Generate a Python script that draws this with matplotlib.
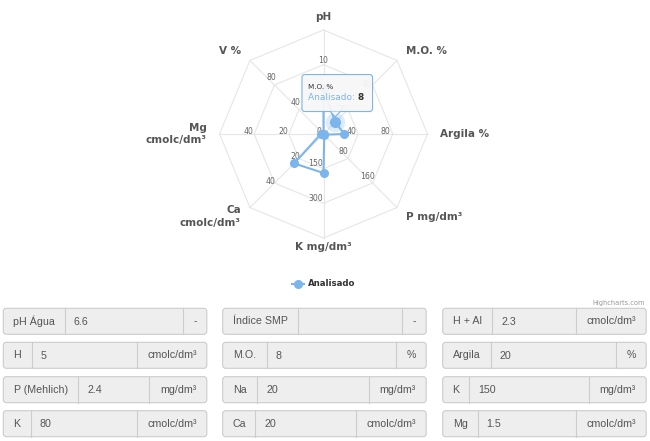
import matplotlib
matplotlib.use("Agg")
import matplotlib.pyplot as plt
from matplotlib.patches import FancyBboxPatch, Polygon
import numpy as np


# radar data, one spoke per soil property
axis_names = ["pH", "M.O. %", "Argila %", "P mg/dm³", "K mg/dm³",
              "Ca\ncmolc/dm³", "Mg\ncmolc/dm³", "V %"]
analisado = [6.6, 8, 20, 2.4, 150, 20, 1.5, 0]
axis_max = [15, 50, 100, 240, 400, 50, 60, 120]
# first pH ring label sits under the tooltip in the reference
ring_ticks = [[None, 10], [20, 40], [40, 80], [80, 160],
              [150, 300], [20, 40], [20, 40], [40, 80]]
series_name = "Analisado"
hover_index = 1

# form fields below the chart, one list per column
table_labels = [["pH Água", "H", "P (Mehlich)", "K"],
                ["Índice SMP", "M.O.", "Na", "Ca"],
                ["H + Al", "Argila", "K", "Mg"]]
table_values = [["6.6", "5", "2.4", "80"],
                ["", "8", "20", "20"],
                ["2.3", "20", "150", "1.5"]]
table_units = [["-", "cmolc/dm³", "mg/dm³", "cmolc/dm³"],
               ["-", "%", "mg/dm³", "cmolc/dm³"],
               ["cmolc/dm³", "%", "mg/dm³", "cmolc/dm³"]]

# layout (pixels)
W, H = 650, 441
cx, cy, R = 323.5, 134, 104
# ring label offset from its ring point, per spoke (px, y down)
label_offsets = [(0, -4), (-6, 0), (-7, -3), (-5, -7),
                 (-8, -5), (-4, -2), (-6, -3), (-3, -7)]
label_widths = [[61.7, 28.4, 75, 27.4],
                [75.6, 44, 34.6, 32.6],
                [49.6, 48, 26.6, 35]]
unit_widths = {"-": 24, "%": 30.5, "mg/dm³": 57.5, "cmolc/dm³": 70}
col_x = [3.3, 222.7, 442.7]
col_w = 203.5
row_y = [308.3, 342.3, 376.7, 410.7]
row_h = 26

BLUE = "#7cb5ec"
GRID = "#e6e6e6"
PX = 0.72  # points per pixel at dpi 100


def draw_radar(fig):
    """draw the spider web with the analysed series"""
    span = 1.35
    ax = fig.add_axes([(cx - span * R) / W, (H - cy - span * R) / H,
                       2 * span * R / W, 2 * span * R / H])
    ax.set_xlim(-span, span)
    ax.set_ylim(-span, span)
    ax.axis("off")

    n = len(axis_names)
    theta = np.arange(n) * 2 * np.pi / n
    sx, sy = np.sin(theta), np.cos(theta)

    # octagon rings and spokes
    for k in (1, 2, 3):
        r = k / 3
        ax.plot(np.append(r * sx, r * sx[0]), np.append(r * sy, r * sy[0]),
                color=GRID, lw=0.8, zorder=1)
    for i in range(n):
        ax.plot([0, sx[i]], [0, sy[i]], color=GRID, lw=0.8, zorder=1)

    # ring labels
    for i in range(n):
        dx, dy = label_offsets[i]
        for k, val in enumerate(ring_ticks[i]):
            if val is None:
                continue
            r = (k + 1) / 3
            ax.annotate(str(val), (r * sx[i], r * sy[i]),
                        xytext=(dx * PX, -dy * PX), textcoords="offset points",
                        ha="center", va="center", fontsize=5.6,
                        color="#666666", zorder=2)
    ax.annotate("0", (0, 0), xytext=(-5 * PX, 3 * PX),
                textcoords="offset points", ha="center", va="center",
                fontsize=5.6, color="#666666", zorder=2)

    # axis names
    for i, name in enumerate(axis_names):
        rl = 1.125 if i != 4 else 1.085
        if abs(sx[i]) < 0.1:
            ha = "center"
        elif sx[i] > 0:
            ha = "left"
        else:
            ha = "right"
        ax.text(rl * sx[i], rl * sy[i], name, ha=ha, va="center",
                fontsize=7.5, fontweight="bold", color="#555555",
                linespacing=1.35, multialignment="right")

    # series
    rr = np.array(analisado) / np.array(axis_max)
    px, py = rr * sx, rr * sy
    ax.plot(np.append(px, px[0]), np.append(py, py[0]), color=BLUE, lw=1.5,
            marker="o", ms=5.5, zorder=4)
    ax.plot(px[hover_index], py[hover_index], "o", ms=14, color=BLUE,
            alpha=0.25, mec="none", zorder=3)
    ax.plot(px[hover_index], py[hover_index], "o", ms=7, color=BLUE,
            zorder=5)

    return ax, (px[hover_index], py[hover_index])


def draw_tooltip(ov, ax, point):
    """tooltip box for the hovered point"""
    X, Y = ax.transData.transform(point)
    ax_px, ay_px = X, H - Y

    left, right = ax_px - 33.3, ax_px + 37.3
    top, bottom = ay_px - 47.7, ay_px - 10.7
    fill = (247 / 255, 247 / 255, 247 / 255, 0.95)
    ov.add_patch(FancyBboxPatch((left, top), right - left, bottom - top,
                                boxstyle="round,pad=0,rounding_size=3",
                                fc=fill, ec=BLUE, lw=0.8, zorder=10))
    tip = [(ax_px - 5, bottom), (ax_px, ay_px - 5.5), (ax_px + 5, bottom)]
    ov.add_patch(Polygon(tip, closed=True, fc=(0.969, 0.969, 0.969),
                         ec="none", zorder=11))
    ov.plot([t[0] for t in tip], [t[1] for t in tip], color=BLUE, lw=0.8,
            zorder=12)

    ov.text(left + 6, top + 12, axis_names[hover_index], ha="left",
            va="center", fontsize=5.2, color="#333333", zorder=13)
    lab = ov.text(left + 6, top + 23, series_name + ": ", ha="left",
                  va="center", fontsize=6.5, color=BLUE, zorder=13)
    ov.annotate("%g" % analisado[hover_index], xy=(1, 0.5), xycoords=lab,
                ha="left", va="center", fontsize=6.5, fontweight="bold",
                color="#333333", zorder=13)


def draw_table(ov):
    """the read-only form fields under the chart"""
    for c in range(len(col_x)):
        for r in range(len(row_y)):
            x0, y0 = col_x[c], row_y[r]
            lw_ = label_widths[c][r]
            unit = table_units[c][r]
            uw = unit_widths[unit]
            ym = y0 + row_h / 2

            ov.add_patch(FancyBboxPatch((x0, y0), col_w, row_h,
                                        boxstyle="round,pad=0,rounding_size=3",
                                        fc="#eeeeee", ec="#cccccc", lw=0.8))
            ov.plot([x0 + lw_, x0 + lw_], [y0, y0 + row_h],
                    color="#cccccc", lw=0.8)
            ov.plot([x0 + col_w - uw, x0 + col_w - uw], [y0, y0 + row_h],
                    color="#cccccc", lw=0.8)

            font = dict(fontsize=7.7, color="#555555", va="center",
                        family="Liberation Sans")
            ov.text(x0 + lw_ / 2, ym, table_labels[c][r], ha="center", **font)
            ov.text(x0 + lw_ + 9, ym + 0.7, table_values[c][r], ha="left",
                    **font)
            ov.text(x0 + col_w - uw / 2, ym, unit, ha="center", **font)


def main():
    fig = plt.figure(figsize=(W / 100, H / 100), dpi=100)
    fig.patch.set_facecolor("white")

    ax, hover_pt = draw_radar(fig)

    ov = fig.add_axes([0, 0, 1, 1])
    ov.set_xlim(0, W)
    ov.set_ylim(H, 0)
    ov.axis("off")

    draw_tooltip(ov, ax, hover_pt)

    # legend
    ov.plot([291.7, 304], [284, 284], color=BLUE, lw=1.5)
    ov.plot(298, 284, "o", ms=5.5, color=BLUE)
    ov.text(308, 284, series_name, ha="left", va="center", fontsize=6.2,
            fontweight="bold", color="#333333")

    ov.text(645, 302.7, "Highcharts.com", ha="right", va="center",
            fontsize=4.8, color="#999999")

    draw_table(ov)

    fig.savefig("out.png", dpi=100)


if __name__ == "__main__":
    main()
